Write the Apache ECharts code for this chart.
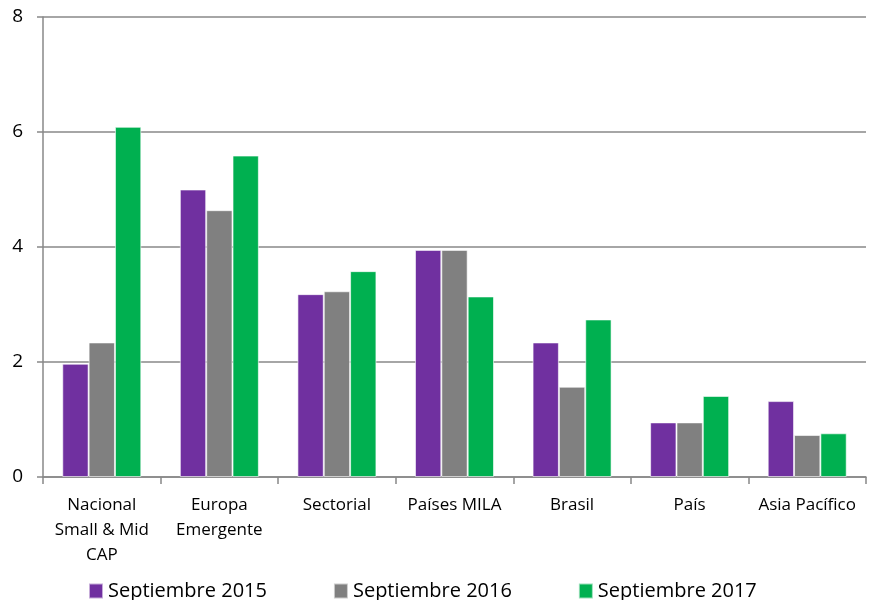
<!DOCTYPE html>
<html>
<head>
<meta charset="utf-8">
<script src="https://cdn.jsdelivr.net/npm/echarts@6/dist/echarts.min.js"></script>
<style>html,body{margin:0;padding:0;background:#fff}#c{width:870px;height:600px}</style>
</head>
<body>
<div id="c"></div>
<script>
var categories = ['Nacional\nSmall & Mid\nCAP', 'Europa\nEmergente', 'Sectorial', 'Países MILA', 'Brasil', 'País', 'Asia Pacífico'];
var seriesNames = ['Septiembre 2015', 'Septiembre 2016', 'Septiembre 2017'];
var sep2015 = [1.97, 5.00, 3.18, 3.95, 2.34, 0.95, 1.32];
var sep2016 = [2.34, 4.64, 3.23, 3.95, 1.57, 0.95, 0.73];
var sep2017 = [6.09, 5.59, 3.58, 3.14, 2.74, 1.41, 0.76];
var yTicks = [0, 2, 4, 6, 8];

var colors = ['#7030A0', '#808080', '#00B050'];
var font = '"Open Sans", Lato, sans-serif';
var chart = echarts.init(document.getElementById('c'), null, {renderer: 'canvas'});
function bar(name, data, i) {
  return {
    name: name, type: 'bar', data: data, barWidth: '22.4%', barGap: '0%',
    itemStyle: {color: colors[i], borderColor: 'rgba(255,255,255,0.6)', borderWidth: 1}
  };
}
chart.setOption({
  animation: false,
  color: colors,
  grid: {left: 43, right: 4, top: 17, bottom: 123, containLabel: false},
  legend: {
    top: 576, left: 83, itemWidth: 14, itemHeight: 15, itemGap: 66,
    icon: 'rect',
    textStyle: {fontFamily: font, fontSize: 20, color: '#000'},
    data: seriesNames
  },
  xAxis: {
    type: 'category', data: categories,
    axisLine: {lineStyle: {color: '#888', width: 1.5}},
    axisTick: {show: true, length: 7, lineStyle: {color: '#888', width: 1.5}},
    axisLabel: {fontFamily: font, fontSize: 17, color: '#000', margin: 16, lineHeight: 25, interval: 0}
  },
  yAxis: {
    type: 'value', min: 0, max: 8, interval: 2,
    axisLine: {show: true, lineStyle: {color: '#888', width: 1.5}},
    axisTick: {show: true, length: 6, lineStyle: {color: '#888', width: 1.5}},
    splitLine: {lineStyle: {color: '#888', width: 1.5}},
    axisLabel: {fontFamily: font, fontSize: 19, color: '#000', margin: 20,
      formatter: function (v) { return yTicks.indexOf(v) >= 0 ? String(v) : ''; }}
  },
  series: [bar(seriesNames[0], sep2015, 0), bar(seriesNames[1], sep2016, 1), bar(seriesNames[2], sep2017, 2)]
});
</script>
</body>
</html>
